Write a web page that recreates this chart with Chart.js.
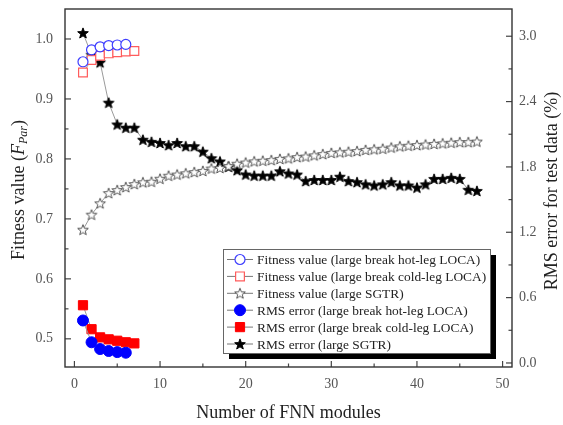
<!DOCTYPE html>
<html>
<head>
<meta charset="utf-8">
<title>Fitness value and RMS error vs number of FNN modules</title>
<script src="https://cdn.jsdelivr.net/npm/chart.js@4.4.1/dist/chart.umd.min.js"></script>
<style>
  html, body { margin: 0; padding: 0; background: #fff; }
  #wrap { width: 563px; height: 425px; position: relative; }
</style>
</head>
<body>
<div id="wrap"><canvas id="fnnChart"></canvas></div>
<script>
// --- data ---
const hotLegModules = [1, 2, 3, 4, 5, 6];
const coldLegModules = [1, 2, 3, 4, 5, 6, 7];
const sgtrModules = [1, 2, 3, 4, 5, 6, 7, 8, 9, 10, 11, 12, 13, 14, 15, 16, 17, 18, 19, 20,
    21, 22, 23, 24, 25, 26, 27, 28, 29, 30, 31, 32, 33, 34, 35, 36, 37, 38, 39, 40,
    41, 42, 43, 44, 45, 46, 47];

// left axis: fitness value
const fitnessHotLeg = [0.962, 0.982, 0.987, 0.989, 0.990, 0.991];
const fitnessColdLeg = [0.944, 0.965, 0.972, 0.976, 0.978, 0.979, 0.980];
const fitnessSgtr = [0.682, 0.707, 0.726, 0.743, 0.748, 0.753, 0.758, 0.761, 0.762, 0.767,
    0.772, 0.774, 0.776, 0.778, 0.780, 0.784, 0.785, 0.788, 0.792, 0.794,
    0.796, 0.797, 0.798, 0.800, 0.801, 0.803, 0.804, 0.806, 0.808, 0.810,
    0.811, 0.812, 0.813, 0.815, 0.816, 0.817, 0.819, 0.821, 0.822, 0.823,
    0.824, 0.825, 0.826, 0.827, 0.828, 0.828, 0.829];

// right axis: RMS error (%)
const rmsHotLeg = [0.39, 0.19, 0.128, 0.11, 0.10, 0.094];
const rmsColdLeg = [0.53, 0.31, 0.235, 0.217, 0.204, 0.19, 0.18];
const rmsSgtr = [3.03, 2.83, 2.76, 2.39, 2.19, 2.16, 2.16, 2.05, 2.03, 2.02,
    2.00, 2.02, 1.99, 1.99, 1.94, 1.88, 1.85, 1.80, 1.77, 1.73,
    1.72, 1.72, 1.72, 1.76, 1.74, 1.73, 1.67, 1.68, 1.68, 1.68,
    1.71, 1.67, 1.66, 1.64, 1.63, 1.64, 1.66, 1.63, 1.63, 1.61,
    1.64, 1.69, 1.69, 1.70, 1.69, 1.59, 1.58];

const seriesLabels = [
    'Fitness value (large break hot-leg LOCA)',
    'Fitness value (large break cold-leg LOCA)',
    'Fitness value (large SGTR)',
    'RMS error (large break hot-leg LOCA)',
    'RMS error (large break cold-leg LOCA)',
    'RMS error (large SGTR)'
];

// tick labels
const xTickValues = [0, 10, 20, 30, 40, 50];
const xMinorTicks = [5, 15, 25, 35, 45];
const leftTickValues = [0.5, 0.6, 0.7, 0.8, 0.9, 1.0];
const leftMinorTicks = [0.55, 0.65, 0.75, 0.85, 0.95];
const rightTickValues = [0.0, 0.6, 1.2, 1.8, 2.4, 3.0];
const rightMinorTicks = [0.3, 0.9, 1.5, 2.1, 2.7];

const SERIF = '"Liberation Serif", "Times New Roman", serif';
const LINE_GREY = '#9a9a9a';

function toPoints(xs, ys) {
    return xs.map((x, i) => ({ x: x, y: ys[i] }));
}

// five-point star marker (Chart.js 'star' is an asterisk)
function makeStar(fill, stroke, r) {
    const s = Math.ceil(r * 2 + 4);
    const c = document.createElement('canvas');
    c.width = s;
    c.height = s;
    const g = c.getContext('2d');
    g.beginPath();
    for (let i = 0; i < 10; i++) {
        const rad = i % 2 === 0 ? r : r * 0.42;
        const a = -Math.PI / 2 + i * Math.PI / 5;
        g.lineTo(s / 2 + rad * Math.cos(a), s / 2 + 0.5 + rad * Math.sin(a));
    }
    g.closePath();
    g.fillStyle = fill;
    g.fill();
    g.lineWidth = 1;
    g.strokeStyle = stroke;
    g.stroke();
    return c;
}

const openStar = makeStar('#ffffff', '#555555', 5.6);
const filledStar = makeStar('#000000', '#000000', 5.6);

// fixed axis box sizes and no label overhang padding
function fixedWidth(size) {
    return function(scale) { scale.width = size; scale.paddingTop = 0; scale.paddingBottom = 0; };
}
function fixedHeight(size) {
    return function(scale) { scale.height = size; scale.paddingLeft = 0; scale.paddingRight = 0; };
}

// frame, inside tick marks, axis titles and boxed legend
const decorations = {
    id: 'decorations',
    afterDatasetsDraw(chart) {
        const ctx = chart.ctx;
        const area = chart.chartArea;
        const sx = chart.scales.x, sy = chart.scales.y, sy1 = chart.scales.y1;
        ctx.save();

        // ticks
        ctx.strokeStyle = '#444';
        ctx.lineWidth = 1.2;
        const tick = (x1, y1, x2, y2) => {
            ctx.beginPath(); ctx.moveTo(x1, y1); ctx.lineTo(x2, y2); ctx.stroke();
        };
        xTickValues.forEach(v => { const p = sx.getPixelForValue(v); tick(p, area.bottom, p, area.bottom - 6); });
        xMinorTicks.forEach(v => { const p = sx.getPixelForValue(v); tick(p, area.bottom, p, area.bottom - 3.5); });
        leftTickValues.forEach(v => { const p = sy.getPixelForValue(v); tick(area.left, p, area.left + 6, p); });
        leftMinorTicks.forEach(v => { const p = sy.getPixelForValue(v); tick(area.left, p, area.left + 3.5, p); });
        rightTickValues.forEach(v => { const p = sy1.getPixelForValue(v); tick(area.right, p, area.right - 6, p); });
        rightMinorTicks.forEach(v => { const p = sy1.getPixelForValue(v); tick(area.right, p, area.right - 3.5, p); });

        // frame
        ctx.strokeStyle = '#333';
        ctx.lineWidth = 1.4;
        ctx.strokeRect(area.left, area.top, area.right - area.left, area.bottom - area.top);

        // left title with italic F and subscript Par
        ctx.fillStyle = '#222';
        ctx.textBaseline = 'middle';
        const parts = [
            { t: 'Fitness value (', f: '18px ' + SERIF, dy: 0 },
            { t: 'F', f: 'italic 18px ' + SERIF, dy: 0 },
            { t: 'Par', f: 'italic 12px ' + SERIF, dy: 5 },
            { t: ')', f: '18px ' + SERIF, dy: 0 }
        ];
        let total = 0;
        parts.forEach(p => { ctx.font = p.f; p.w = ctx.measureText(p.t).width; total += p.w; });
        ctx.save();
        ctx.translate(19, 190);
        ctx.rotate(-Math.PI / 2);
        ctx.textAlign = 'left';
        let cx = -total / 2;
        parts.forEach(p => { ctx.font = p.f; ctx.fillText(p.t, cx, p.dy); cx += p.w; });
        ctx.restore();

        // right title, reading upwards
        ctx.save();
        ctx.translate(552, 191);
        ctx.rotate(-Math.PI / 2);
        ctx.textAlign = 'center';
        ctx.font = '18px ' + SERIF;
        ctx.fillText('RMS error for test data (%)', 0, 0);
        ctx.restore();

        // legend box with drop shadow
        const lx = 223, ly = 249, lw = 267, lh = 104;
        ctx.fillStyle = '#000';
        ctx.fillRect(lx + 6, ly + 6, lw, lh);
        ctx.fillStyle = '#fff';
        ctx.fillRect(lx, ly, lw, lh);
        ctx.strokeStyle = '#666';
        ctx.lineWidth = 1;
        ctx.strokeRect(lx + 0.5, ly + 0.5, lw, lh);

        ctx.font = '13.4px ' + SERIF;
        ctx.textAlign = 'left';
        ctx.textBaseline = 'middle';
        chart.data.datasets.forEach((ds, i) => {
            const yRow = ly + 10.5 + i * 16.9;
            ctx.strokeStyle = '#777';
            ctx.lineWidth = 1;
            tick(lx + 4, yRow, lx + 30, yRow);
            ctx.fillStyle = ds.pointBackgroundColor;
            ctx.strokeStyle = ds.pointBorderColor;
            ctx.lineWidth = ds.pointBorderWidth;
            Chart.helpers.drawPoint(ctx, {
                pointStyle: ds.pointStyle,
                radius: ds.pointRadius,
                borderWidth: ds.pointBorderWidth,
                rotation: 0
            }, lx + 17, yRow);
            ctx.fillStyle = '#222';
            ctx.fillText(ds.label, lx + 34, yRow + 1);
        });

        ctx.restore();
    }
};

const ctx = document.getElementById('fnnChart');

new Chart(ctx, {
    type: 'line',
    data: {
        datasets: [{
            label: seriesLabels[0],
            data: toPoints(hotLegModules, fitnessHotLeg),
            yAxisID: 'y',
            borderColor: LINE_GREY,
            borderWidth: 1,
            pointStyle: 'circle',
            pointRadius: 5,
            pointBorderWidth: 1.2,
            pointBorderColor: '#3d3dff',
            pointBackgroundColor: '#ffffff'
        }, {
            label: seriesLabels[1],
            data: toPoints(coldLegModules, fitnessColdLeg),
            yAxisID: 'y',
            borderColor: LINE_GREY,
            borderWidth: 1,
            pointStyle: 'rect',
            pointRadius: 6.2,
            pointBorderWidth: 1.2,
            pointBorderColor: '#ff5c5c',
            pointBackgroundColor: '#ffffff'
        }, {
            label: seriesLabels[2],
            data: toPoints(sgtrModules, fitnessSgtr),
            yAxisID: 'y',
            borderColor: LINE_GREY,
            borderWidth: 1,
            pointStyle: openStar,
            pointRadius: 5.6,
            pointBorderWidth: 1,
            pointBorderColor: '#555555',
            pointBackgroundColor: '#ffffff'
        }, {
            label: seriesLabels[3],
            data: toPoints(hotLegModules, rmsHotLeg),
            yAxisID: 'y1',
            borderColor: LINE_GREY,
            borderWidth: 1,
            pointStyle: 'circle',
            pointRadius: 5.5,
            pointBorderWidth: 1,
            pointBorderColor: '#0000ff',
            pointBackgroundColor: '#0000ff'
        }, {
            label: seriesLabels[4],
            data: toPoints(coldLegModules, rmsColdLeg),
            yAxisID: 'y1',
            borderColor: LINE_GREY,
            borderWidth: 1,
            pointStyle: 'rect',
            pointRadius: 6.5,
            pointBorderWidth: 1,
            pointBorderColor: '#ff0000',
            pointBackgroundColor: '#ff0000'
        }, {
            label: seriesLabels[5],
            data: toPoints(sgtrModules, rmsSgtr),
            yAxisID: 'y1',
            borderColor: LINE_GREY,
            borderWidth: 1,
            pointStyle: filledStar,
            pointRadius: 5.6,
            pointBorderWidth: 1,
            pointBorderColor: '#000000',
            pointBackgroundColor: '#000000'
        }]
    },
    options: {
        responsive: true,
        maintainAspectRatio: false,
        animation: false,
        devicePixelRatio: 1,
        layout: { padding: { top: 9, left: 0, right: 0, bottom: 0 } },
        plugins: {
            legend: { display: false },
            tooltip: { enabled: false }
        },
        scales: {
            x: {
                type: 'linear',
                min: -1.1,
                max: 51.1,
                afterFit: fixedHeight(58),
                afterBuildTicks: scale => { scale.ticks = xTickValues.map(v => ({ value: v })); },
                grid: { display: false, drawTicks: false },
                border: { display: false },
                ticks: {
                    padding: 9,
                    color: '#555',
                    font: { family: SERIF, size: 14 }
                },
                title: {
                    display: true,
                    text: 'Number of FNN modules',
                    color: '#222',
                    padding: { top: 0, bottom: 1 },
                    font: { family: SERIF, size: 18 }
                }
            },
            y: {
                position: 'left',
                min: 0.453,
                max: 1.05,
                afterFit: fixedWidth(65),
                afterBuildTicks: scale => { scale.ticks = leftTickValues.map(v => ({ value: v })); },
                grid: { display: false, drawTicks: false },
                border: { display: false },
                ticks: {
                    padding: 12,
                    color: '#555',
                    font: { family: SERIF, size: 14 },
                    callback: v => v.toFixed(1)
                }
            },
            y1: {
                position: 'right',
                min: -0.037,
                max: 3.25,
                afterFit: fixedWidth(51),
                afterBuildTicks: scale => { scale.ticks = rightTickValues.map(v => ({ value: v })); },
                grid: { display: false, drawTicks: false },
                border: { display: false },
                ticks: {
                    padding: 7,
                    color: '#555',
                    font: { family: SERIF, size: 14 },
                    callback: v => v.toFixed(1)
                }
            }
        }
    },
    plugins: [decorations]
});
</script>
</body>
</html>
